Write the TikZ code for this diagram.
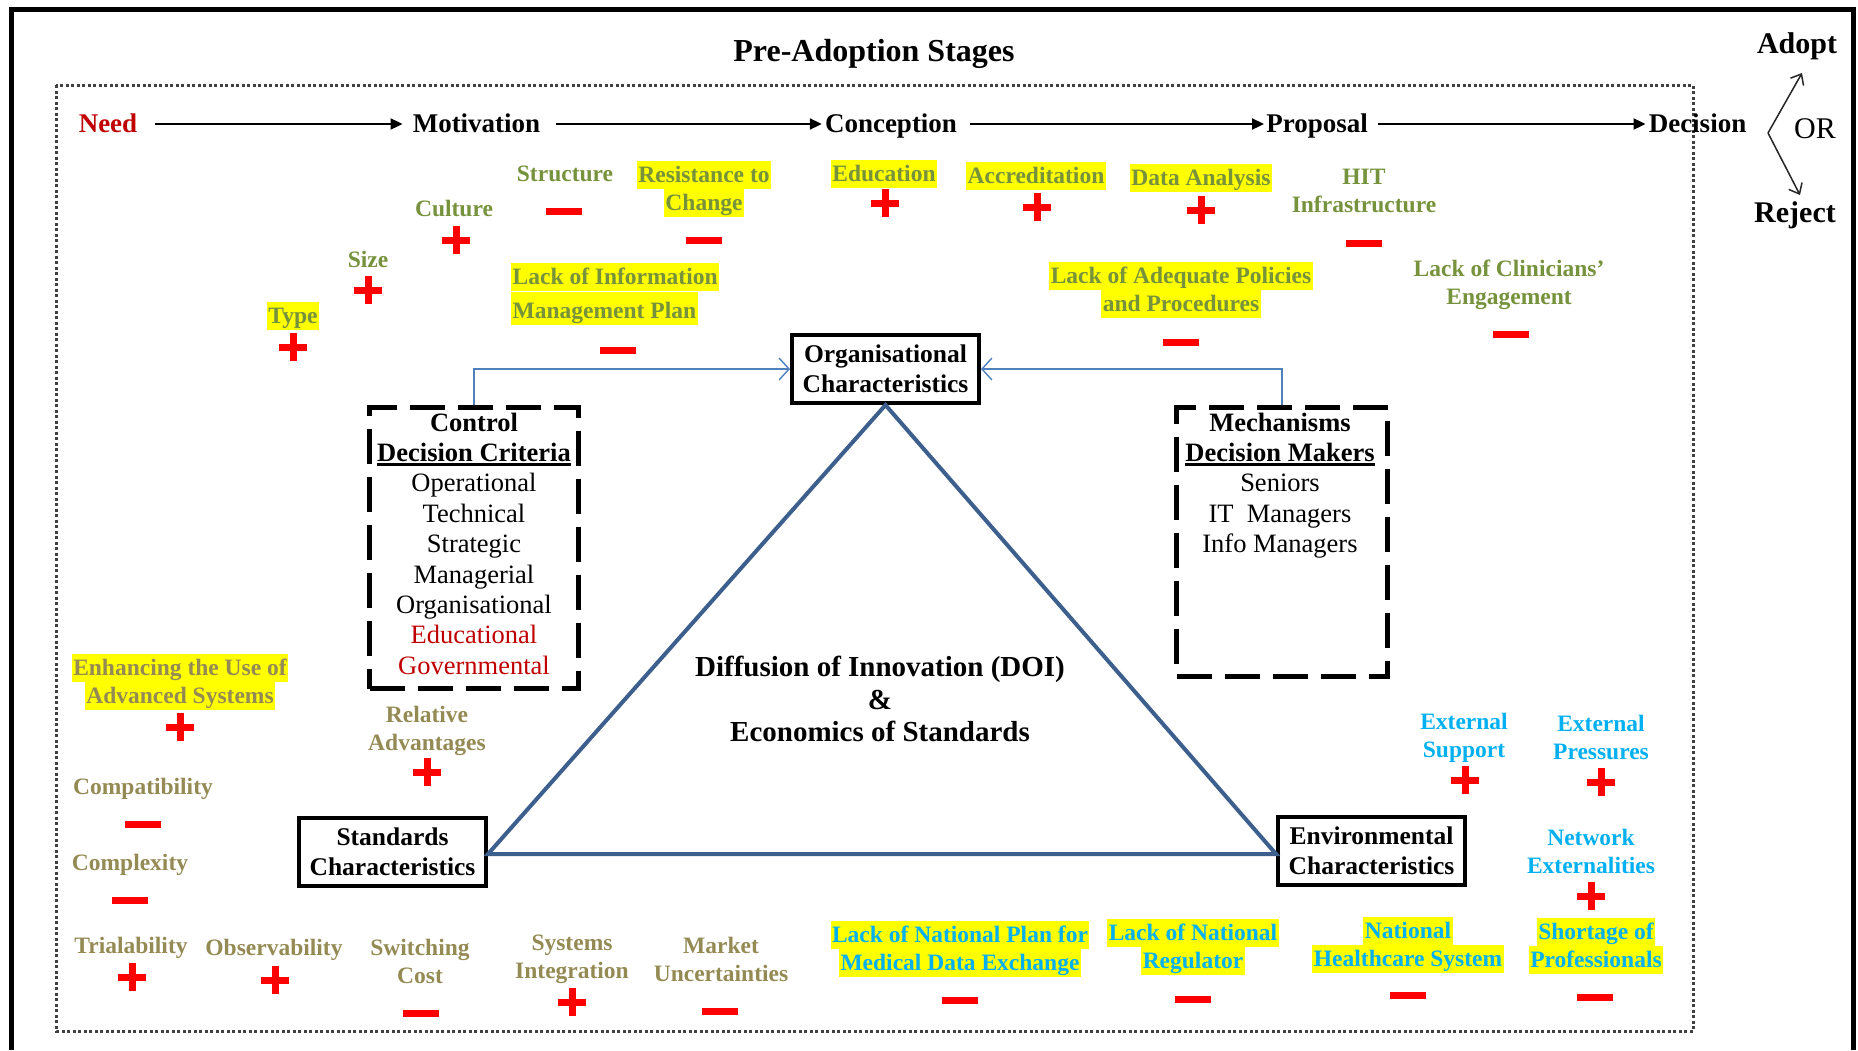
\documentclass[tikz,border=0pt]{standalone}
\usepackage{fontspec}
\setmainfont{Liberation Serif}
\usetikzlibrary{arrows.meta}

\definecolor{olivetxt}{HTML}{76923C}
\definecolor{tantxt}{HTML}{948A54}
\definecolor{skytxt}{HTML}{00B0F0}
\definecolor{needred}{HTML}{C00000}
\definecolor{signred}{HTML}{FF0000}
\definecolor{triblue}{HTML}{3D5F8E}
\definecolor{linkblue}{HTML}{4F81BD}
\definecolor{hlyellow}{HTML}{FFFF00}
\definecolor{dotgray}{HTML}{404040}

% uniform line box for the coloured labels
\newcommand\cstrut{\rule[-6.5pt]{0pt}{28pt}}
% yellow highlight of one line (optional: taller line box)
\newcommand\hl[2][28pt]{{\setlength\fboxsep{0pt}\colorbox{hlyellow}{\hspace{1.5pt}\rule[-6.5pt]{0pt}{#1}#2\hspace{1.5pt}}}}
% heavy underline
\newcommand\ulbox[1]{\setbox0=\hbox{#1}\rlap{\rule[-4pt]{\wd0}{2.4pt}}\box0}

\begin{document}
\begin{tikzpicture}[x=1pt,y=-1pt,
  stage/.style={inner sep=0pt, text height=20pt, text depth=4pt,
    font=\fontsize{27}{32}\selectfont\bfseries},
  stagearrow/.style={line width=2pt, -{Triangle[length=12pt,width=11pt]}},
  decis/.style={inner sep=0pt, font=\fontsize{30}{36}\selectfont\bfseries},
  forkarrow/.style={line width=1.5pt, black!85, -{Straight Barb[length=9pt,width=15pt]}},
  linkarrow/.style={line width=1.4pt, linkblue, -{Straight Barb[length=10pt,width=22pt]}},
  charbox/.style={draw, line width=4pt, fill=white, inner sep=0pt, align=center,
    minimum width=187pt, minimum height=68pt,
    font=\fontsize{25.5}{30}\selectfont\bfseries},
  dashbox/.style={draw, line width=4.5pt, dash pattern=on 35pt off 13pt},
  boxlist/.style={inner sep=0pt, align=center, anchor=north,
    font=\fontsize{26.5}{30.4}\selectfont},
  triline/.style={line width=4pt, triblue, line join=miter},
  dotframe/.style={line width=3pt, dotgray, dash pattern=on 3pt off 2.5pt},
  lbl/.style={inner sep=0pt, align=center, font=\fontsize{23.5}{28}\selectfont\bfseries},
  olivelbl/.style={lbl, text=olivetxt},
  tanlbl/.style={lbl, text=tantxt},
  skylbl/.style={lbl, text=skytxt},
  signplus/.pic={\fill[signred] (-14,-3.5) rectangle (14,3.5);
                 \fill[signred] (-3.5,-14) rectangle (3.5,14);},
  signminus/.pic={\fill[signred] (-18,-3.5) rectangle (18,3.5);}
]
\useasboundingbox (0,0) rectangle (1858,1050);

% outer frame (open at the bottom)
\draw[line width=5pt, line join=miter] (11,1050) -- (11,9.5) -- (1853,9.5) -- (1853,1050);

% dotted frame of the pre-adoption stages
\draw[dotframe] (56,85) rectangle (1693,1031);

\node[inner sep=0pt, anchor=base, font=\fontsize{32}{38}\selectfont\bfseries] (title) at (874,61) {Pre-Adoption Stages};

% stage sequence
\node[stage, text=needred] (need) at (108,124) {Need};
\node[stage] (motiv) at (476.5,124) {Motivation};
\node[stage] (conc) at (891,124) {Conception};
\node[stage] (prop) at (1317,124) {Proposal};
\node[stage] (dec) at (1697.5,124) {Decision};
\draw[stagearrow, shorten <=18pt, shorten >=10pt] (need) -- (motiv);
\draw[stagearrow, shorten <=16pt, shorten >=3pt] (motiv) -- (conc);
\draw[stagearrow, shorten <=13pt, shorten >=2pt] (conc) -- (prop);
\draw[stagearrow, shorten <=10pt, shorten >=3pt] (prop) -- (dec);

% outcome of the decision
\node[decis, anchor=base] (adopt) at (1797,53) {Adopt};
\node[decis, anchor=base] (reject) at (1795,222) {Reject};
\node[inner sep=0pt, anchor=base, font=\fontsize{30}{36}\selectfont] (or) at (1815,138) {OR};
\coordinate (fork) at (1768,133);
\coordinate (adopttip) at (1802,73);
\coordinate (rejecttip) at (1800,195);
\draw[forkarrow] (fork) -- (adopttip);
\draw[forkarrow] (fork) -- (rejecttip);

% triangle of characteristics
\node[charbox] (org) at (885.5,369) {Organisational\\Characteristics};
\node[charbox] (std) at (392.5,852) {Standards\\Characteristics};
\node[charbox] (env) at (1371.5,851) {Environmental\\Characteristics};
\draw[triline] (org.south) -- ([yshift=-2pt]std.east) -- ([yshift=-3pt]env.west) -- cycle;

\node[inner sep=0pt, align=center, font=\fontsize{29}{32.5}\selectfont\bfseries] (doi) at (880,699)
  {Diffusion of Innovation (DOI)\\\&\\Economics of Standards};

% control and mechanisms boxes
\node[dashbox, minimum width=209pt, minimum height=281pt] (ctrlbox) at (474,548) {};
\node[dashbox, minimum width=211pt, minimum height=269pt] (mechbox) at (1282,542) {};
\node[boxlist] (ctrltext) at (474,409.7)
  {\strut\textbf{Control}\\ \textbf{\ulbox{Decision Criteria}}\\ Operational\\ Technical\\ Strategic\\
   Managerial\\ Organisational\\ \textcolor{needred}{Educational}\\ \textcolor{needred}{Governmental}};
\node[boxlist] (mechtext) at (1280,409.7)
  {\strut\textbf{Mechanisms}\\ \textbf{\ulbox{Decision Makers}}\\ Seniors\\ IT~~Managers\\ Info Managers};
\draw[linkarrow] (ctrlbox.north) |- (org.west);
\draw[linkarrow] (mechbox.north) |- (org.east);

% organisational factors
\node[olivelbl] (type) at (293,316) {\hl{Type}};
\pic at (293,347) {signplus};
\node[olivelbl] (size) at (368,260) {\cstrut Size};
\pic at (368,290) {signplus};
\node[olivelbl] (culture) at (454,209) {\cstrut Culture};
\pic at (456,240) {signplus};
\node[olivelbl] (structure) at (565,174) {\cstrut Structure};
\pic at (564,211) {signminus};
\node[olivelbl] (resist) at (704,188.5) {\hl{Resistance to}\\\hl{Change}};
\pic at (704,240) {signminus};
\node[olivelbl, align=left, anchor=west] (infoplan) at (511,293.5) {\hl{Lack of Information}\\\hl[33pt]{Management Plan}};
\pic at (618,350) {signminus};
\node[olivelbl] (education) at (884,174) {\hl{Education}};
\pic at (885,203) {signplus};
\node[olivelbl] (accred) at (1036,176) {\hl{Accreditation}};
\pic at (1037,207) {signplus};
\node[olivelbl] (analysis) at (1201,178) {\hl{Data Analysis}};
\pic at (1201,210) {signplus};
\node[olivelbl] (hit) at (1364,191) {\cstrut HIT\\\cstrut Infrastructure};
\pic at (1364,243) {signminus};
\node[olivelbl] (policies) at (1181,290) {\hl{Lack of Adequate Policies}\\\hl{and Procedures}};
\pic at (1181,342) {signminus};
\node[olivelbl] (clinicians) at (1509,282.5) {\cstrut Lack of Clinicians’\\\cstrut Engagement};
\pic at (1511,334) {signminus};

% standards factors
\node[tanlbl] (enhancing) at (180,682) {\hl{Enhancing the Use of}\\\hl{Advanced Systems}};
\pic at (180,727) {signplus};
\node[tanlbl] (relative) at (427,729) {\cstrut Relative\\\cstrut Advantages};
\pic at (427,772) {signplus};
\node[tanlbl] (compat) at (143,787) {\cstrut Compatibility};
\pic at (143,824) {signminus};
\node[tanlbl] (complex) at (130,863) {\cstrut Complexity};
\pic at (130,900) {signminus};
\node[tanlbl] (trial) at (131,946) {\cstrut Trialability};
\pic at (132,977) {signplus};
\node[tanlbl] (observ) at (274,948) {\cstrut Observability};
\pic at (275,980) {signplus};
\node[tanlbl] (switching) at (420,961.5) {\cstrut Switching\\\cstrut Cost};
\pic at (421,1013) {signminus};
\node[tanlbl] (sysint) at (572,956.5) {\cstrut Systems\\\cstrut Integration};
\pic at (572,1002) {signplus};
\node[tanlbl] (market) at (721,960) {\cstrut Market\\\cstrut Uncertainties};
\pic at (720,1011) {signminus};

% environmental factors
\node[skylbl] (natplan) at (960,948.5) {\hl{Lack of National Plan for}\\\hl{Medical Data Exchange}};
\pic at (960,1000) {signminus};
\node[skylbl] (regulator) at (1193,946.5) {\hl{Lack of National}\\\hl{Regulator}};
\pic at (1193,999) {signminus};
\node[skylbl] (healthcare) at (1408,944.5) {\hl{National}\\\hl{Healthcare System}};
\pic at (1408,995) {signminus};
\node[skylbl] (shortage) at (1596,946) {\hl{Shortage of}\\\hl{Professionals}};
\pic at (1595,997) {signminus};
\node[skylbl] (extsupport) at (1464,736) {\cstrut External\\\cstrut Support};
\pic at (1465,780) {signplus};
\node[skylbl] (extpress) at (1601,737.5) {\cstrut External\\\cstrut Pressures};
\pic at (1601,782) {signplus};
\node[skylbl] (network) at (1591,852) {\cstrut Network\\\cstrut Externalities};
\pic at (1591,896) {signplus};
\end{tikzpicture}
\end{document}
